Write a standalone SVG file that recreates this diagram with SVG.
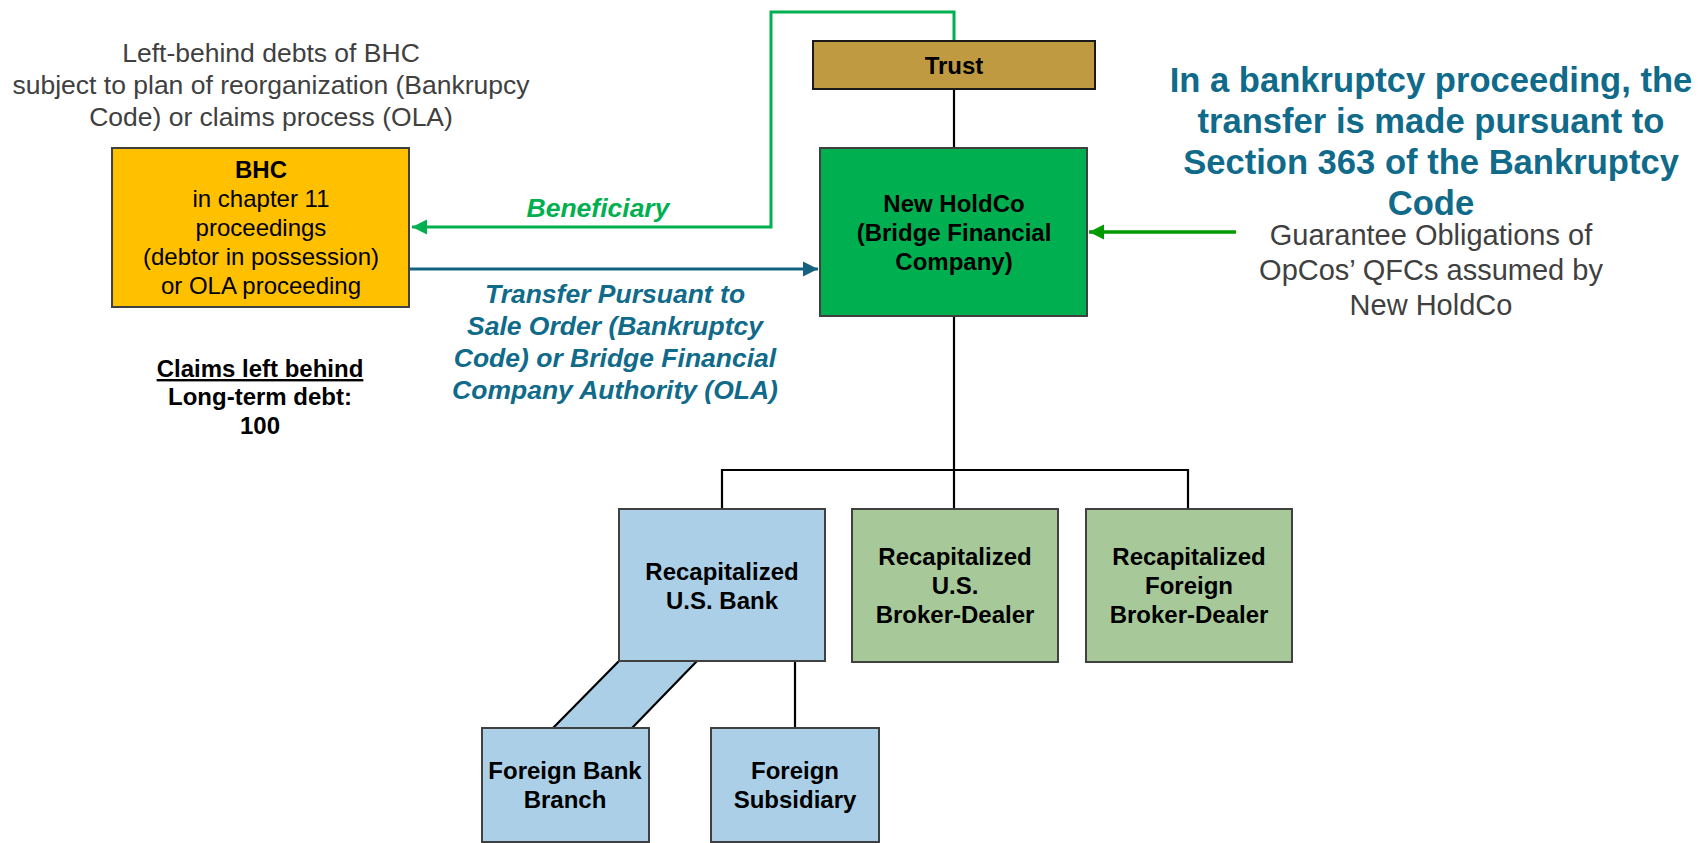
<svg xmlns="http://www.w3.org/2000/svg" width="1707" height="843" viewBox="0 0 1707 843">
<style>
text{font-family:"Liberation Sans",Arial,sans-serif;text-anchor:middle}
.n{font-size:24px;font-weight:bold;fill:#000}
.r{font-size:24px;fill:#000}
.box{stroke:#404040;stroke-width:2}
.gray{fill:#404040}
.teal{fill:#106a8a;font-weight:bold}
.blk{stroke:#000;stroke-width:2.2;fill:none}
</style>
<defs>
<marker id="ag" markerUnits="userSpaceOnUse" markerWidth="16" markerHeight="16" refX="15" refY="8" orient="auto"><path d="M0,0.5 L15,8 L0,15.5 z" fill="#00b050"/></marker>
<marker id="ab" markerUnits="userSpaceOnUse" markerWidth="16" markerHeight="16" refX="15" refY="8" orient="auto"><path d="M0,0.5 L15,8 L0,15.5 z" fill="#14627f"/></marker>
<marker id="ad" markerUnits="userSpaceOnUse" markerWidth="16" markerHeight="16" refX="15" refY="8" orient="auto"><path d="M0,0.5 L15,8 L0,15.5 z" fill="#009a00"/></marker>
</defs>
<rect width="1707" height="843" fill="#fff"/>

<g id="connectors">
<path d="M954,41 V12 H771 V227 H412" fill="none" stroke="#00b050" stroke-width="3" marker-end="url(#ag)"/>
<path d="M410,269 H818" fill="none" stroke="#14627f" stroke-width="3" marker-end="url(#ab)"/>
<path d="M1236,232 H1089" fill="none" stroke="#009a00" stroke-width="3.5" marker-end="url(#ad)"/>
<path class="blk" d="M954,89 V148"/>
<path class="blk" d="M954,316 V509"/>
<path class="blk" d="M722,509 V470 H1188 V509"/>
<path class="blk" d="M795,662 V728"/>
<polygon points="619,661 697,661 632,728 553,728" fill="#abcfe6"/>
<path class="blk" d="M619,661 L553,728 M697,661 L632,728"/>
</g>

<g id="label-left-behind">
<text class="gray" font-size="26.5" x="271" y="62">Left-behind debts of BHC</text>
<text class="gray" font-size="26.5" x="271" y="94">subject to plan of reorganization (Bankrupcy</text>
<text class="gray" font-size="26.5" x="271" y="126">Code) or claims process (OLA)</text>
</g>

<g id="bhc">
<rect class="box" x="112" y="148" width="297" height="159" fill="#ffc000"/>
<text class="n" x="261" y="178">BHC</text>
<text class="r" x="261" y="207">in chapter 11</text>
<text class="r" x="261" y="236">proceedings</text>
<text class="r" x="261" y="265">(debtor in possession)</text>
<text class="r" x="261" y="294">or OLA proceeding</text>
</g>

<g id="claims">
<text class="n" x="260" y="377" text-decoration="underline">Claims left behind</text>
<text class="n" x="260" y="405">Long-term debt:</text>
<text class="n" x="260" y="434">100</text>
</g>

<g id="label-beneficiary">
<text x="598" y="217" font-size="26.5" font-weight="bold" font-style="italic" fill="#00b050">Beneficiary</text>
</g>

<g id="label-transfer">
<text x="615" y="303" font-size="26.5" font-weight="bold" font-style="italic" fill="#106a8a">Transfer Pursuant to</text>
<text x="615" y="335" font-size="26.5" font-weight="bold" font-style="italic" fill="#106a8a">Sale Order (Bankruptcy</text>
<text x="615" y="367" font-size="26.5" font-weight="bold" font-style="italic" fill="#106a8a">Code) or Bridge Financial</text>
<text x="615" y="399" font-size="26.5" font-weight="bold" font-style="italic" fill="#106a8a">Company Authority (OLA)</text>
</g>

<g id="trust">
<rect x="813" y="41" width="282" height="48" fill="#c09a40" stroke="#1a1a1a" stroke-width="2"/>
<text class="n" x="954" y="74">Trust</text>
</g>

<g id="new-holdco">
<rect class="box" x="820" y="148" width="267" height="168" fill="#00b050"/>
<text class="n" x="954" y="212">New HoldCo</text>
<text class="n" x="954" y="241">(Bridge Financial</text>
<text class="n" x="954" y="270">Company)</text>
</g>

<g id="note-section-363">
<text class="teal" font-size="34.6" x="1431" y="92">In a bankruptcy proceeding, the</text>
<text class="teal" font-size="34.6" x="1431" y="133">transfer is made pursuant to</text>
<text class="teal" font-size="34.6" x="1431" y="174">Section 363 of the Bankruptcy</text>
<text class="teal" font-size="34.6" x="1431" y="215">Code</text>
</g>

<g id="label-guarantee">
<text class="gray" font-size="29" x="1431" y="245">Guarantee Obligations of</text>
<text class="gray" font-size="29" x="1431" y="280">OpCos’ QFCs assumed by</text>
<text class="gray" font-size="29" x="1431" y="315">New HoldCo</text>
</g>

<g id="us-bank">
<rect class="box" x="619" y="509" width="206" height="152" fill="#abcfe6"/>
<text class="n" x="722" y="580">Recapitalized</text>
<text class="n" x="722" y="609">U.S. Bank</text>
</g>

<g id="us-broker-dealer">
<rect class="box" x="852" y="509" width="206" height="153" fill="#a7c899"/>
<text class="n" x="955" y="565">Recapitalized</text>
<text class="n" x="955" y="594">U.S.</text>
<text class="n" x="955" y="623">Broker-Dealer</text>
</g>

<g id="foreign-broker-dealer">
<rect class="box" x="1086" y="509" width="206" height="153" fill="#a7c899"/>
<text class="n" x="1189" y="565">Recapitalized</text>
<text class="n" x="1189" y="594">Foreign</text>
<text class="n" x="1189" y="623">Broker-Dealer</text>
</g>

<g id="foreign-bank-branch">
<rect class="box" x="482" y="728" width="167" height="114" fill="#abcfe6"/>
<text class="n" x="565" y="779">Foreign Bank</text>
<text class="n" x="565" y="808">Branch</text>
</g>

<g id="foreign-subsidiary">
<rect class="box" x="711" y="728" width="168" height="114" fill="#abcfe6"/>
<text class="n" x="795" y="779">Foreign</text>
<text class="n" x="795" y="808">Subsidiary</text>
</g>
</svg>
